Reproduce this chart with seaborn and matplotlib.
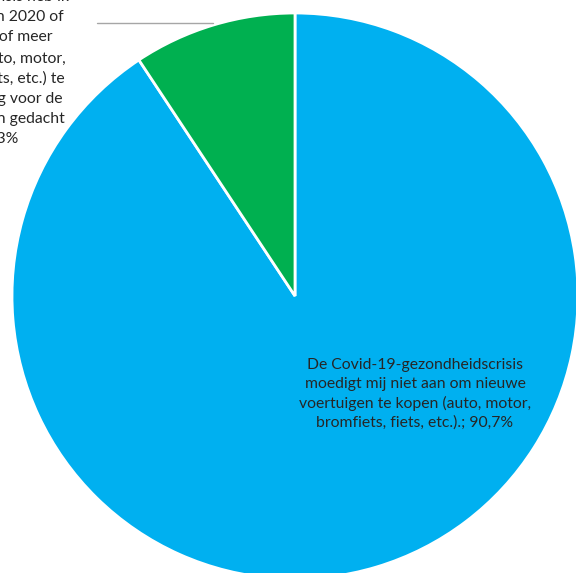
import matplotlib
matplotlib.use("Agg")
import matplotlib.pyplot as plt
import seaborn as sns

sns.set_theme(style="white")
plt.rcParams["font.family"] = ["Lato", "DejaVu Sans"]

# Answers and shares (%)
labels = [
    "De Covid-19-gezondheidscrisis\nmoedigt mij niet aan om nieuwe\nvoertuigen te kopen (auto, motor,\nbromfiets, fiets, etc.).; 90,7%",
    "Door de gezondheidscrisis heb ik\nsterk overwogen om in 2020 of\nbegin van 2021 een of meer\nnieuwe voertuigen (auto, motor,\nscooter, bromfiets, fiets, etc.) te\nkopen, terwijl ik er nog voor de\ncrisis helemaal niet aan gedacht\nzou hebben.; 9,3%",
]
shares = [90.7, 9.3]
colors = ["#00B0F0", "#00B050"]

W, H = 576, 573
cx, cy, r = 295, 296, 283  # pie centre and radius in pixels

fig = plt.figure(figsize=(W / 100, H / 100), dpi=100)
ax = fig.add_axes([0, 0, 1, 1])
ax.pie(shares, colors=colors, startangle=90, counterclock=False, radius=1,
       wedgeprops=dict(edgecolor="white", linewidth=2))
ax.set_xlim(-cx / r, (W - cx) / r)
ax.set_ylim(-(H - cy) / r, cy / r)
ax.set_aspect("auto")
ax.axis("off")

def px(x, y):
    return (x - cx) / r, (cy - y) / r

txt_color = "#262626"
# label inside the large slice
ax.text(*px(415, 394), labels[0], ha="center", va="center", fontsize=11.3,
        color=txt_color, linespacing=1.41)
# label of the small slice, outside on the left
ax.text(*px(-45, 68), labels[1], ha="center", va="center", fontsize=11.3,
        color=txt_color, linespacing=1.55, clip_on=False)
# leader line to the small slice
x0, y0 = px(97, 23)
x1, y1 = px(213, 23)
ax.plot([x0, x1], [y0, y1], color="#A6A6A6", linewidth=1)

fig.savefig("out.png", dpi=100)
